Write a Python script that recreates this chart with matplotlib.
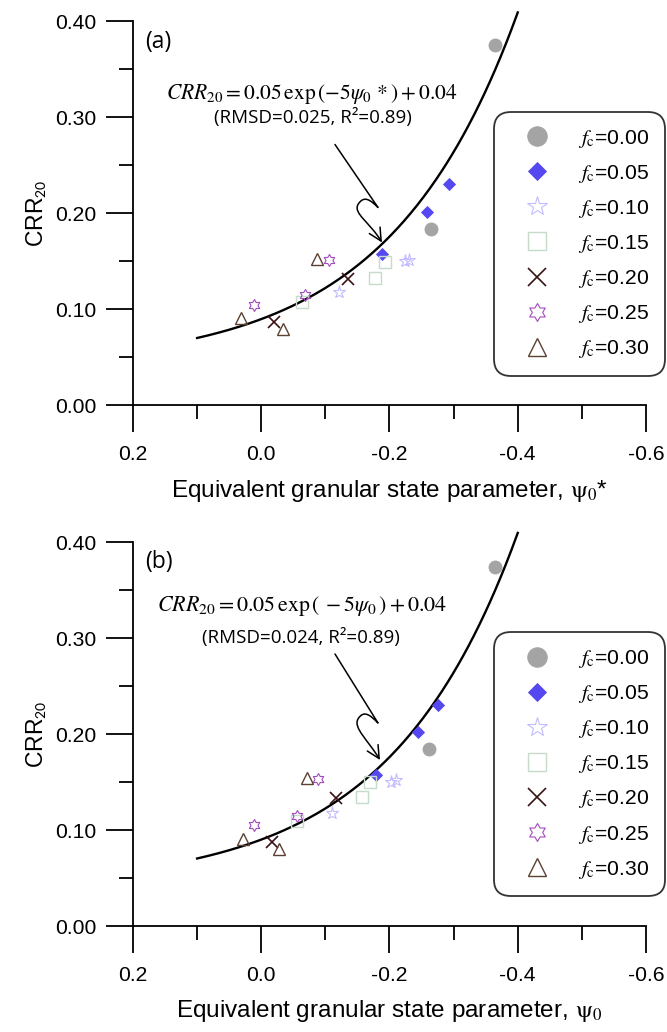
import numpy as np
import matplotlib
matplotlib.use("Agg")
import matplotlib.pyplot as plt
from matplotlib.path import Path
from matplotlib.patches import FancyArrowPatch
from matplotlib.ticker import MultipleLocator, FuncFormatter
from matplotlib.lines import Line2D

plt.rcParams['font.family'] = ['Liberation Sans', 'DejaVu Sans']
plt.rcParams['mathtext.fontset'] = 'stix'

# ---------------- data ----------------
fc_labels = ["0.00", "0.05", "0.10", "0.15", "0.20", "0.25", "0.30"]

# panel (a): equivalent granular state parameter psi0*
a_x_000 = [-0.264, -0.365]; a_y_000 = [0.184, 0.375]
a_x_005 = [-0.189, -0.259, -0.293]; a_y_005 = [0.158, 0.202, 0.231]
a_x_010 = [-0.121, -0.224, -0.231]; a_y_010 = [0.118, 0.150, 0.152]
a_x_015 = [-0.064, -0.178, -0.193]; a_y_015 = [0.108, 0.133, 0.149]
a_x_020 = [-0.020, -0.136]; a_y_020 = [0.087, 0.132]
a_x_025 = [0.011, -0.069, -0.106]; a_y_025 = [0.105, 0.115, 0.152]
a_x_030 = [0.032, -0.034, -0.087]; a_y_030 = [0.091, 0.080, 0.153]

# panel (b): state parameter psi0
b_x_000 = [-0.262, -0.365]; b_y_000 = [0.184, 0.374]
b_x_005 = [-0.179, -0.245, -0.276]; b_y_005 = [0.157, 0.202, 0.230]
b_x_010 = [-0.110, -0.203, -0.210]; b_y_010 = [0.118, 0.150, 0.152]
b_x_015 = [-0.056, -0.157, -0.170]; b_y_015 = [0.109, 0.134, 0.150]
b_x_020 = [-0.016, -0.117]; b_y_020 = [0.088, 0.133]
b_x_025 = [0.011, -0.056, -0.089]; b_y_025 = [0.105, 0.115, 0.153]
b_x_030 = [0.029, -0.028, -0.072]; b_y_030 = [0.091, 0.080, 0.154]

# fitted relation CRR20 = A*exp(B*psi) + C
fit_A, fit_B, fit_C = 0.05, -5.0, 0.04
fit_range = (0.1, -0.4)

# ---------------- styles ----------------
hexagram = Path.unit_regular_star(6, 0.577)
styles = [
    dict(marker='o', ms=9.4, mfc='#a4a4a4', mec='#a4a4a4', mew=0.6),
    dict(marker='D', ms=6.4, mfc='#5548f0', mec='#5548f0', mew=0.6),
    dict(marker='*', ms=9.6, mfc='none', mec='#c2bdff', mew=0.8),
    dict(marker='s', ms=8.8, mfc='none', mec='#c6dbc9', mew=1.0),
    dict(marker='x', ms=8.6, mfc='none', mec='#3b1212', mew=1.2),
    dict(marker=hexagram, ms=8.6, mfc='none', mec='#a24cbf', mew=0.8),
    dict(marker='^', ms=8.2, mfc='none', mec='#5b4132', mew=1.0),
]

W, H = 667, 1032
fig = plt.figure(figsize=(W / 100, H / 100), dpi=100)

ax_l = 133 / W
ax_w = 513 / W
ax_h = 384 / H
ax_a = fig.add_axes([ax_l, 1 - 405.5 / H, ax_w, ax_h])
ax_b = fig.add_axes([ax_l, 1 - 926 / H, ax_w, ax_h])


def xfmt(v, p):
    if abs(v) < 1e-9:
        return "0.0"
    return f"{v:.1f}"


def yfmt(v, p):
    if abs(v) < 1e-9:
        return "0.00"
    return f"{v:.2f}"


def setup(ax, xlabel):
    ax.set_xlim(0.2, -0.6)
    ax.set_ylim(0, 0.40)
    for s in ['top', 'right']:
        ax.spines[s].set_visible(False)
    for s in ['left', 'bottom']:
        ax.spines[s].set_linewidth(1.3)
    ax.xaxis.set_major_locator(MultipleLocator(0.2))
    ax.xaxis.set_minor_locator(MultipleLocator(0.1))
    ax.yaxis.set_major_locator(MultipleLocator(0.1))
    ax.yaxis.set_minor_locator(MultipleLocator(0.05))
    ax.yaxis.set_major_formatter(FuncFormatter(yfmt))
    ax.xaxis.set_major_formatter(FuncFormatter(xfmt))
    ax.tick_params(which='major', direction='out', length=19.5, width=1.3, labelsize=15.2)
    ax.tick_params(axis='x', which='major', pad=9)
    ax.tick_params(axis='y', which='major', pad=7)
    ax.tick_params(which='minor', direction='out', length=10, width=1.3)
    ax.set_ylabel('CRR$_{\\mathsf{20}}$', fontsize=16.5, labelpad=5)
    ax.set_xlabel(xlabel, fontsize=17.5, labelpad=10)


def draw_panel(ax, xs, ys, tag, formula, f_left, f_y, f_size, rmsd, r_x, arrow_pts):
    psi = np.linspace(fit_range[0], fit_range[1], 300)
    ax.plot(psi, fit_A * np.exp(fit_B * psi) + fit_C, color='black', lw=1.7,
            clip_on=False, zorder=2)
    for x, y, st in zip(xs, ys, styles):
        ax.plot(x, y, ls='none', zorder=3, **st)
    handles = [Line2D([], [], ls='none', **st) for st in styles]
    labels = [r"$f_{\mathrm{c}}$=" + v for v in fc_labels]
    leg = ax.legend(handles, labels, loc='upper left', bbox_to_anchor=(0.704, 0.765),
                    borderaxespad=0, fontsize=15.2, markerscale=1.5,
                    handlelength=2.6, handletextpad=0.6, borderpad=0.75,
                    labelspacing=0.62, frameon=True, fancybox=True)
    fr = leg.get_frame()
    fr.set_edgecolor('black')
    fr.set_linewidth(1.3)
    fr.set_boxstyle('round,pad=0,rounding_size=0.8')
    leg.set_clip_on(False)

    ax.text(0.181, 0.379, tag, fontsize=16.5, family='Open Sans', ha='left', va='center')
    ax.text(f_left, f_y, formula, fontsize=f_size, ha='left', va='center')
    ax.text(r_x, 0.30, rmsd, fontsize=13.5, family='Open Sans', ha='center', va='center')

    # lightning-style arrow (pixel offsets from the axes' top-left corner)
    (sx, sy), (cx, cy), (lx, ly), (ex, ey) = arrow_pts
    pts = [(sx, sy), (cx, cy),
           (cx - 7, cy - 7), (lx + 6, ly - 10), (lx, ly),
           (lx - 5, ly + 9), (ex - 12, ey - 20), (ex, ey)]
    codes = [Path.MOVETO, Path.LINETO,
             Path.CURVE4, Path.CURVE4, Path.CURVE4,
             Path.CURVE4, Path.CURVE4, Path.CURVE4]
    verts = [(x / 513.0, 1 - y / 384.0) for x, y in pts]
    arr = FancyArrowPatch(path=Path(verts, codes), transform=ax.transAxes,
                          arrowstyle='->,head_length=0.6,head_width=0.3',
                          mutation_scale=15, lw=1.1, color='black', clip_on=False, zorder=4)
    ax.add_patch(arr)


setup(ax_a, r"Equivalent granular state parameter, $\mathrm{\psi}_{0}$*")
setup(ax_b, r"Equivalent granular state parameter, $\mathrm{\psi}_{0}$")

draw_panel(ax_a,
           [a_x_000, a_x_005, a_x_010, a_x_015, a_x_020, a_x_025, a_x_030],
           [a_y_000, a_y_005, a_y_010, a_y_015, a_y_020, a_y_025, a_y_030],
           "(a)", r"$CRR_{20}=0.05\,\exp\left(-5\psi_0\,*\right)+0.04$", 0.1486, 0.324, 15.5,
           "(RMSD=0.025, R²=0.89)", -0.0806,
           [(202, 123), (245, 186), (225, 183), (249, 221)])

draw_panel(ax_b,
           [b_x_000, b_x_005, b_x_010, b_x_015, b_x_020, b_x_025, b_x_030],
           [b_y_000, b_y_005, b_y_010, b_y_015, b_y_020, b_y_025, b_y_030],
           "(b)", r"$CRR_{20}=0.05\,\exp\left(\,-5\psi_{0}\,\right)+0.04$", 0.1626, 0.333, 15.8,
           "(RMSD=0.024, R²=0.89)", -0.062,
           [(202, 112), (245, 181), (225, 177), (247, 218)])

fig.savefig("out.png", dpi=100)
